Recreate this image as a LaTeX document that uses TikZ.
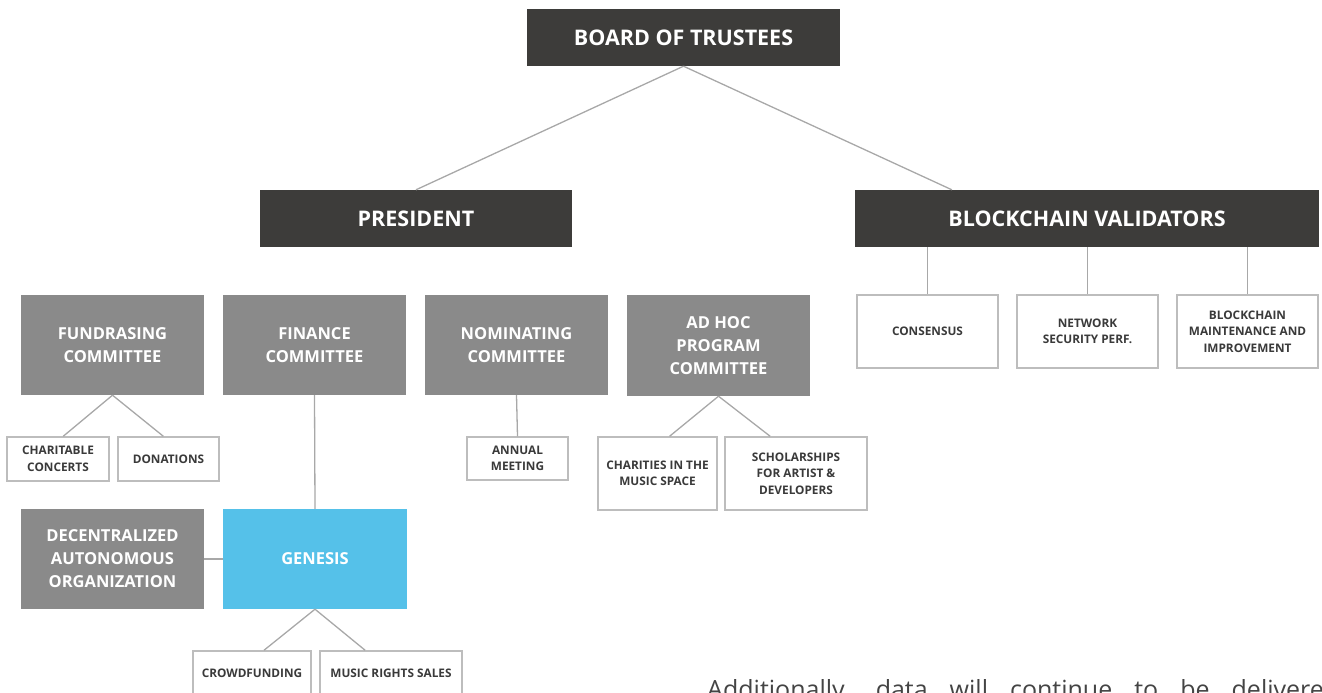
\documentclass[tikz,border=0pt]{standalone}
\usepackage{fontspec}
\setmainfont{Open Sans}
\usetikzlibrary{calc}
\definecolor{darkbox}{HTML}{3D3C3A}
\definecolor{graybox}{HTML}{8A8A8A}
\definecolor{bluebox}{HTML}{55C1E9}
\definecolor{linec}{HTML}{A8A8A8}
\definecolor{smallborder}{HTML}{BDBDBD}
\definecolor{smalltext}{HTML}{3A3A3A}
\definecolor{bodytext}{HTML}{444444}
\tikzset{
  box/.style={inner sep=0pt, align=center, font=\bfseries},
  darkb/.style={box, fill=darkbox, text=white, font=\fontsize{21.5}{26}\selectfont\bfseries},
  grayb/.style={box, fill=graybox, text=white, font=\fontsize{16.5}{23}\selectfont\bfseries},
  blueb/.style={box, fill=bluebox, text=white, font=\fontsize{16.5}{23}\selectfont\bfseries},
  smallb/.style={box, fill=white, draw=smallborder, line width=1.4pt, text=smalltext, font=\fontsize{11.8}{16.5}\selectfont\bfseries},
  conn/.style={draw=linec, line width=1.3pt},
}
\begin{document}
\begin{tikzpicture}[x=1pt,y=-1pt]
\useasboundingbox (0,0) rectangle (1322,693);
\clip (0,0) rectangle (1322,693);
% top levels
\node[darkb, minimum width=313pt, minimum height=57pt] (board) at (683.5,37.5) {BOARD OF TRUSTEES};
\node[darkb, minimum width=312pt, minimum height=57pt] (pres) at (416,218.5) {PRESIDENT};
\node[darkb, minimum width=464pt, minimum height=57pt] (bv) at (1087,218.5) {BLOCKCHAIN VALIDATORS};
% committees
\node[grayb, minimum width=183pt, minimum height=100pt] (fund) at (112.5,345) {FUNDRASING\\COMMITTEE};
\node[grayb, minimum width=183pt, minimum height=100pt] (fin) at (314.5,345) {FINANCE\\COMMITTEE};
\node[grayb, minimum width=183pt, minimum height=100pt] (nom) at (516.5,345) {NOMINATING\\COMMITTEE};
\node[grayb, minimum width=183pt, minimum height=101pt] (adhoc) at (718.5,345.5) {AD HOC\\PROGRAM\\COMMITTEE};
% validators' tasks
\node[smallb, minimum width=141pt, minimum height=73pt] (cons) at (927.5,331.5) {CONSENSUS};
\node[smallb, minimum width=141pt, minimum height=73pt] (net) at (1087.5,331.5) {NETWORK\\SECURITY PERF.};
\node[smallb, minimum width=141pt, minimum height=73pt] (bcm) at (1247.5,331.5) {BLOCKCHAIN\\MAINTENANCE AND\\IMPROVEMENT};
% small boxes
\node[smallb, minimum width=102pt, minimum height=44pt] (char) at (58,459) {CHARITABLE\\CONCERTS};
\node[smallb, minimum width=101pt, minimum height=44pt] (don) at (168.5,459) {DONATIONS};
\node[smallb, minimum width=101pt, minimum height=43pt] (annual) at (517.5,458.5) {ANNUAL\\MEETING};
\node[smallb, minimum width=119pt, minimum height=73pt] (charities) at (657.5,473.5) {CHARITIES IN THE\\MUSIC SPACE};
\node[smallb, minimum width=142pt, minimum height=73pt] (schol) at (796,473.5) {SCHOLARSHIPS\\FOR ARTIST \&\\DEVELOPERS};
% genesis row
\node[grayb, minimum width=183pt, minimum height=100pt] (dao) at (112.5,559) {DECENTRALIZED\\AUTONOMOUS\\ORGANIZATION};
\node[blueb, minimum width=184pt, minimum height=100pt] (gen) at (315,559) {GENESIS};
\node[smallb, minimum width=118pt, minimum height=44pt] (crowd) at (252,673) {CROWDFUNDING};
\node[smallb, minimum width=142pt, minimum height=44pt] (music) at (391,673) {MUSIC RIGHTS SALES};
% connectors
\draw[conn] (board.south) -- (pres.north);
\draw[conn] (board.south) -- ($(bv.north west)!0.209!(bv.north east)$);
\draw[conn] (cons.north |- bv.south) -- (cons.north);
\draw[conn] (net.north |- bv.south) -- (net.north);
\draw[conn] (bcm.north |- bv.south) -- (bcm.north);
\draw[conn] (fund.south) -- ($(char.north west)!0.55!(char.north east)$);
\draw[conn] (fund.south) -- ($(don.north west)!0.45!(don.north east)$);
\draw[conn] (fin.south) -- (gen.north);
\draw[conn] (nom.south) -- (annual.north);
\draw[conn] (adhoc.south) -- ($(charities.north west)!0.6!(charities.north east)$);
\draw[conn] (adhoc.south) -- ($(schol.north west)!0.32!(schol.north east)$);
\draw[conn] (dao.east) -- (gen.west);
\draw[conn] (gen.south) -- ($(crowd.north west)!0.6!(crowd.north east)$);
\draw[conn] (gen.south) -- ($(music.north west)!0.32!(music.north east)$);
% body text below (cut off by the lower edge, as in the reference)
\node[anchor=base west, inner sep=0pt, text=bodytext, font=\fontsize{25}{30}\selectfont] (body) at (707,698) {\makebox[632pt][s]{Additionally, data will continue to be delivered}};
\end{tikzpicture}
\end{document}
